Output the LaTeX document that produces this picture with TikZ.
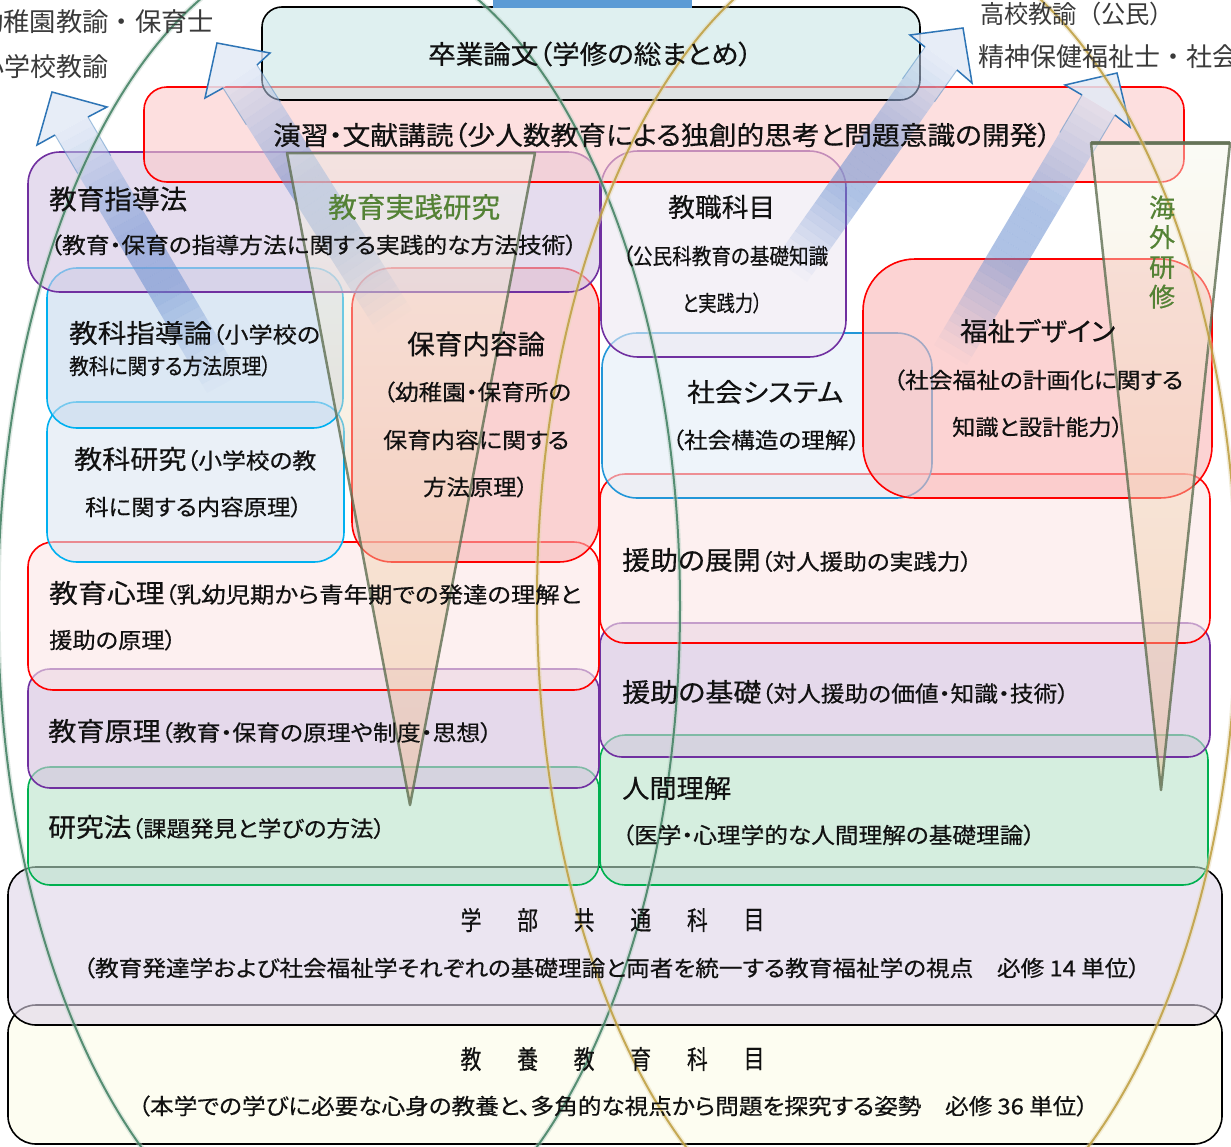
\documentclass[tikz,border=0pt]{standalone}
\usepackage{fontspec}
\usepackage{graphicx}
\newfontfamily\jp[RawFeature=+palt, FakeBold=0.45]{Noto Sans CJK JP}
\newfontfamily\jpm{Noto Sans CJK JP}
\usetikzlibrary{calc}
\definecolor{redline}{HTML}{FF0000}
\definecolor{purpleline}{HTML}{7030A0}
\definecolor{lblueline}{HTML}{00B0F0}
\definecolor{blueline}{HTML}{2196D8}
\definecolor{greenline}{HTML}{00B050}
\definecolor{arrowblue}{HTML}{4472C4}
\definecolor{arrowedge}{HTML}{2E75B6}
\definecolor{wedgeline}{HTML}{5F6F52}
\definecolor{greentext}{HTML}{548235}
\definecolor{ellgreen}{HTML}{3F7F60}
\definecolor{ellyellow}{HTML}{BE9E3E}
\definecolor{topbar}{HTML}{5B9BD5}
\definecolor{txtblack}{HTML}{111111}
\definecolor{labgrey}{HTML}{3A3A3A}
\definecolor{fTeal}{HTML}{CBE6E6}
\definecolor{fPink}{HTML}{FCCBCB}
\definecolor{fLav}{HTML}{D5C5E3}
\definecolor{fLavL}{HTML}{EDE9F3}
\definecolor{fBlueA}{HTML}{C6DAEE}
\definecolor{fBlueB}{HTML}{DCE6F3}
\definecolor{fPinkB}{HTML}{F7B4B4}
\definecolor{fBlueC}{HTML}{E3EDF7}
\definecolor{fPinkC}{HTML}{FAB7B7}
\definecolor{fPinkL}{HTML}{FCE6E6}
\definecolor{fLavB}{HTML}{D5C1DF}
\definecolor{fGreen}{HTML}{B9E4CB}
\definecolor{fLavC}{HTML}{DFD5E9}
\definecolor{fCream}{HTML}{FDFDE9}
\definecolor{wtop}{HTML}{F5F8EB}
\definecolor{wbot}{HTML}{EDB98A}
\newcommand\fs[1]{\fontsize{#1}{#1}\selectfont}
\newcommand\bx[8]{\node[box, draw=#2, fill=#3, rounded corners=#8pt,
  minimum width={(#6-#4)*1pt}, minimum height={(#7-#5)*1pt}] (#1) at ({(#4+#6)/2},{(#5+#7)/2}) {};}
\newcommand\tl[5]{\node[txt, anchor=west] (#1) at (#2,#3) {\resizebox{#4pt}{\height}{#5}};}
\newcommand\barrow[1]{%
  \foreach \i in {0,...,29}{%
    \pgfmathsetmacro\ta{\i/30}%
    \pgfmathsetmacro\tb{(\i+1)/30}%
    \pgfmathsetmacro\tm{(\i+0.5)/30}%
    \pgfmathsetmacro\op{min(0.55,\tm*1.5)}%
    \pgfmathtruncatemacro\pc{\tm<0.6 ? 78 : 78-(\tm-0.6)*135}%
    \fill[arrowblue!\pc!white, fill opacity=\op]
      ($(#1t1)!\ta!(#1n1)$) -- ($(#1t1)!\tb!(#1n1)$) -- ($(#1t2)!\tb!(#1n2)$) -- ($(#1t2)!\ta!(#1n2)$) -- cycle;
  }%
  \fill[arrowblue!15!white, fill opacity=0.85] (#1n1) -- (#1b1) -- (#1tip) -- (#1b2) -- (#1n2) -- cycle;
  \draw[arrowedge, line width=1.5pt, line join=miter] (#1n1) -- (#1b1) -- (#1tip) -- (#1b2) -- (#1n2);
  \draw[arrowedge, line width=1pt, opacity=0.4] (#1n1) -- ($(#1n1)!0.15!(#1t1)$) (#1n2) -- ($(#1n2)!0.15!(#1t2)$);
}
\begin{document}
\begin{tikzpicture}[x=1pt,y=-1pt,font=\jp,
  box/.style={line width=1.6pt, fill opacity=0.6, inner sep=0pt, outer sep=0pt},
  txt/.style={inner sep=0pt, text=txtblack}]
\useasboundingbox (0,0) rectangle (1231,1146);
\clip (0,0) rectangle (1231,1146);
\fill[white] (0,0) rectangle (1231,1146);
% ---- boxes ----
\bx{kyoyo}{black}{fCream}{8}{1005}{1222}{1144}{28}
\bx{gakubu}{black}{fLavC}{8}{867}{1222}{1025}{28}
\bx{kenkyu}{greenline}{fGreen}{28}{767}{599}{885}{22}
\bx{ningen}{greenline}{fGreen}{600}{735}{1208}{885}{25}
\bx{genri}{purpleline}{fLavB}{28}{669}{599}{788}{22}
\bx{kiso}{purpleline}{fLavB}{600}{623}{1210}{757}{22}
\bx{shinri}{redline}{fPinkL}{28}{542}{599}{690}{25}
\bx{tenkai}{redline}{fPinkL}{600}{474}{1210}{643}{25}
\bx{kkenkyu}{lblueline}{fBlueB}{47}{402}{344}{562}{30}
\bx{kshido}{lblueline}{fBlueA}{47}{268}{343}{428}{30}
\bx{hoiku}{redline}{fPinkB}{352}{268}{599}{562}{40}
\bx{shakai}{blueline}{fBlueC}{602}{333}{932}{498}{35}
\bx{fukushi}{redline}{fPinkC}{863}{259}{1212}{498}{52}
\bx{kyoshoku}{purpleline}{fLavL}{601}{151}{846}{357}{37}
\bx{shidoho}{purpleline}{fLav}{28}{152}{600}{292}{32}
\bx{enshu}{redline}{fPink}{144}{87}{1184}{182}{23}
\bx{sotsuron}{black}{fTeal}{262}{7}{920}{100}{20}
\fill[topbar] (493,0) rectangle (692,8);
% ---- arrows ----
\coordinate (Atip) at (52,92); \coordinate (Ab1) at (37,145); \coordinate (Ab2) at (107,107);
\coordinate (An1) at (55,135); \coordinate (An2) at (88,117); \coordinate (At1) at (207,393); \coordinate (At2) at (240,375);
\coordinate (Btip) at (217,43); \coordinate (Bb1) at (205,98); \coordinate (Bb2) at (270,53);
\coordinate (Bn1) at (223,88); \coordinate (Bn2) at (257,65); \coordinate (Bt1) at (378,333); \coordinate (Bt2) at (412,310);
\coordinate (Ctip) at (963,28); \coordinate (Cb1) at (910,35); \coordinate (Cb2) at (972,83);
\coordinate (Cn1) at (925,47); \coordinate (Cn2) at (957,70); \coordinate (Ct1) at (775,259); \coordinate (Ct2) at (807,282);
\coordinate (Dtip) at (1117,73); \coordinate (Db1) at (1065,85); \coordinate (Db2) at (1130,127);
\coordinate (Dn1) at (1082,95); \coordinate (Dn2) at (1115,115); \coordinate (Dt1) at (934,345); \coordinate (Dt2) at (967,365);
\barrow{A}\barrow{B}\barrow{C}\barrow{D}
% ---- wedges ----
\path[shade, top color=wtop, bottom color=wbot, fill opacity=0.45] (287,153) -- (535,153) -- (410,805) -- cycle;
\draw[wedgeline, line width=2.5pt, opacity=0.8, line join=round] (287,153) -- (535,153) -- (410,805) -- cycle;
\path[shade, top color=wtop, bottom color=wbot, fill opacity=0.45] (1091,143) -- (1230,143) -- (1161,790) -- cycle;
\draw[wedgeline, line width=2.5pt, opacity=0.8, line join=round] (1091,143) -- (1230,143) -- (1161,790) -- cycle;
\draw[wedgeline, line width=4.5pt, opacity=0.8] (1091,143) -- (1230,143);
% ---- ellipses ----
\draw[ellgreen!35!white, line width=5pt, opacity=0.45] (339,606) ellipse [x radius=341, y radius=664];
\draw[ellgreen, line width=2pt, opacity=0.85] (339,606) ellipse [x radius=341, y radius=664];
\draw[ellyellow!40!white, line width=5pt, opacity=0.45] (887,600) ellipse [x radius=350, y radius=668];
\draw[ellyellow, line width=2pt, opacity=0.85] (887,600) ellipse [x radius=350, y radius=668];
% ---- outer labels ----
\tl{lab1}{-23}{22}{237}{\jpm\color{labgrey}\fs{26}幼稚園教諭・保育士}
\tl{lab2}{-22}{67}{130}{\jpm\color{labgrey}\fs{26}小学校教諭}
\tl{lab3}{980}{14}{194}{\jpm\color{labgrey}\fs{25}高校教諭（公民）}
\tl{lab4}{978}{57}{338}{\jpm\color{labgrey}\fs{26}精神保健福祉士・社会福祉士}
% ---- texts ----
\tl{t1}{428}{54}{324}{\fs{26}卒業論文（学修の総まとめ）}
\tl{t2}{273}{135}{778}{\fs{26}演習・文献講読（少人数教育による独創的思考と問題意識の開発）}
\tl{t3}{49}{199}{138}{\fs{27}教育指導法}
\tl{t4}{50}{245}{527}{\fs{22}（教育・保育の指導方法に関する実践的な方法技術）}
\tl{t5}{328}{207}{172}{\color{greentext}\fs{28}教育実践研究}
\tl{t6}{668}{207}{107}{\fs{26}教職科目}
\tl{t7}{623}{256}{205}{\fs{22}（公民科教育の基礎知識}
\tl{t8}{682}{303}{80}{\fs{22}と実践力）}
\tl{t9}{69}{333}{251}{\fs{26}教科指導論\fs{22}（小学校の}
\tl{t10}{69}{366}{202}{\fs{22}教科に関する方法原理）}
\tl{t11}{74}{459}{242}{\fs{26}教科研究\fs{22}（小学校の教}
\tl{t12}{85}{507}{217}{\fs{22}科に関する内容原理）}
\tl{t13}{407}{344}{138}{\fs{27}保育内容論}
\tl{t14}{383}{392}{188}{\fs{22}（幼稚園・保育所の}
\tl{t15}{383}{440}{186}{\fs{22}保育内容に関する}
\tl{t16}{423}{487}{105}{\fs{22}方法原理）}
\tl{t17}{687}{392}{156}{\fs{26}社会システム}
\tl{t18}{672}{440}{188}{\fs{22}（社会構造の理解）}
\tl{t19}{960}{331}{155}{\fs{26}福祉デザイン}
\tl{t20}{893}{380}{290}{\fs{22}（社会福祉の計画化に関する}
\tl{t21}{952}{427}{171}{\fs{22}知識と設計能力）}
\tl{t22}{622}{560}{350}{\fs{26}援助の展開\fs{22}（対人援助の実践力）}
\tl{t23}{49}{593}{532}{\fs{26}教育心理\fs{22}（乳幼児期から青年期での発達の理解と}
\tl{t24}{49}{640}{127}{\fs{22}援助の原理）}
\tl{t25}{48}{731}{444}{\fs{26}教育原理\fs{22}（教育・保育の原理や制度・思想）}
\tl{t26}{48}{827}{337}{\fs{26}研究法\fs{22}（課題発見と学びの方法）}
\tl{t27}{622}{692}{447}{\fs{26}援助の基礎\fs{22}（対人援助の価値・知識・技術）}
\tl{t28}{622}{788}{109}{\fs{26}人間理解}
\tl{t29}{622}{835}{413}{\fs{22}（医学・心理学的な人間理解の基礎理論）}
\tl{t30}{83}{968}{1057}{\fs{22}（教育発達学および社会福祉学それぞれの基礎理論と両者を統一する教育福祉学の視点　必修 14 単位）}
\tl{t31}{138}{1106}{950}{\fs{22}（本学での学びに必要な心身の教養と、多角的な視点から問題を探究する姿勢　必修 36 単位）}
\node[txt, align=center, text=greentext, font=\jp\fontsize{26}{29.7}\selectfont] (kaigai) at (1162,252) {海\\外\\研\\修};
\foreach \c [count=\k from 0] in {学,部,共,通,科,目}
  \node[txt] (g\k) at ({471+56.6*\k},920) {\scalebox{0.8}[1]{\fs{26}\c}};
\foreach \c [count=\k from 0] in {教,養,教,育,科,目}
  \node[txt] (k\k) at ({471+56.6*\k},1059) {\scalebox{0.8}[1]{\fs{26}\c}};
\end{tikzpicture}
\end{document}
